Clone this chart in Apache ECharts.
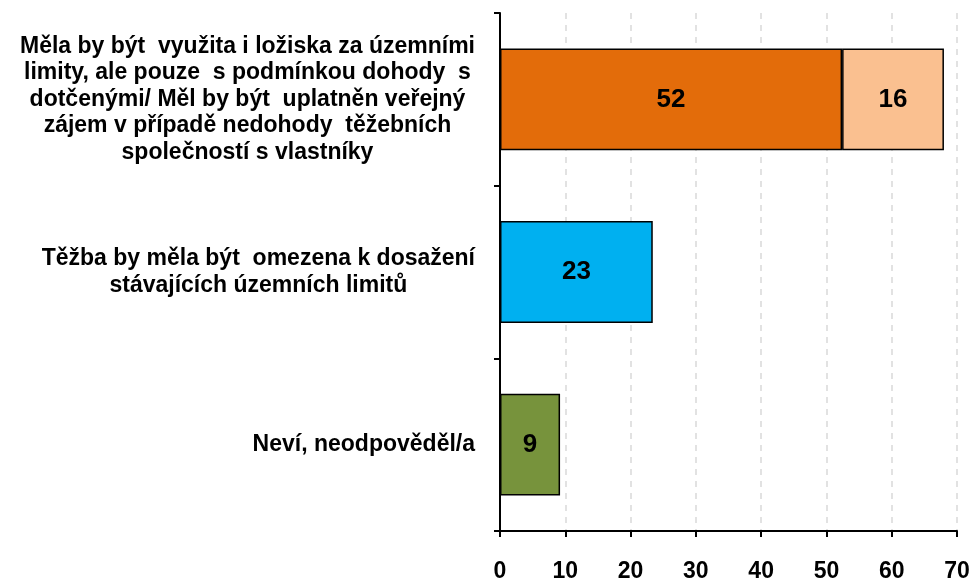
<!DOCTYPE html>
<html>
<head>
<meta charset="utf-8">
<script src="https://cdn.jsdelivr.net/npm/echarts@6/dist/echarts.min.js"></script>
<style>
  html, body { margin: 0; padding: 0; background: #fff; }
  #chart { width: 970px; height: 582px; }
</style>
</head>
<body>
<div id="chart"></div>
<script>
// data
var categories = [
    'Měla by být  využita i ložiska za územními\nlimity, ale pouze  s podmínkou dohody  s\ndotčenými/ Měl by být  uplatněn veřejný\nzájem v případě nedohody  těžebních\nspolečností s vlastníky',
    'Těžba by měla být  omezena k dosažení\nstávajících územních limitů',
    'Neví, neodpověděl/a'
];
var mainValues = [52.4, 23.4, 9.2];
var extraValues = [15.6, null, null];
var mainColors = ['#E36C0A', '#00B0F0', '#77933C'];
var extraColor = '#FAC090';
var xTicks = [0, 10, 20, 30, 40, 50, 60, 70];

var chart = echarts.init(document.getElementById('chart'));

var labelStyle = {
    show: true,
    position: 'inside',
    color: '#000',
    fontFamily: 'Liberation Sans, Arial',
    fontWeight: 'bold',
    fontSize: 26,
    formatter: function (p) { return Math.round(p.value); }
};

var option = {
    animation: false,
    grid: { left: 500, right: 13, top: 13, bottom: 51, outerBoundsMode: 'none', containLabel: false },
    xAxis: {
        type: 'value',
        min: xTicks[0],
        max: xTicks[xTicks.length - 1],
        interval: 10,
        axisLine: { show: true, lineStyle: { color: '#000', width: 2 } },
        axisTick: { show: true, length: 6, lineStyle: { color: '#000', width: 2 } },
        axisLabel: {
            color: '#000', fontFamily: 'Liberation Sans, Arial', fontWeight: 'bold',
            fontSize: 23, margin: 29, hideOverlap: false
        },
        splitLine: { show: true, lineStyle: { color: '#d9d9d9', type: [6, 6], width: 1.5 } }
    },
    yAxis: {
        type: 'category',
        inverse: true,
        data: categories,
        axisLine: { show: true, lineStyle: { color: '#000', width: 2 } },
        axisTick: { show: true, length: 6, alignWithLabel: false, lineStyle: { color: '#000', width: 2 } },
        axisLabel: {
            margin: 25,
            align: 'right',
            lineHeight: 26.5,
            formatter: function (v) {
                return v.split('\n').map(function (s) { return '{c|' + s + '}'; }).join('\n');
            },
            rich: {
                c: {
                    align: 'center',
                    color: '#000', fontFamily: 'Liberation Sans, Arial', fontWeight: 'bold',
                    fontSize: 23, lineHeight: 26.5
                }
            }
        }
    },
    series: [
        {
            type: 'bar',
            stack: 'a',
            barWidth: '59%',
            data: mainValues.map(function (v, i) {
                return { value: v, itemStyle: { color: mainColors[i] } };
            }),
            itemStyle: { borderColor: '#000', borderWidth: 1.5 },
            label: labelStyle
        },
        {
            type: 'bar',
            stack: 'a',
            barWidth: '59%',
            data: extraValues,
            itemStyle: { color: extraColor, borderColor: '#000', borderWidth: 1.5 },
            label: labelStyle
        }
    ]
};

chart.setOption(option);
</script>
</body>
</html>
